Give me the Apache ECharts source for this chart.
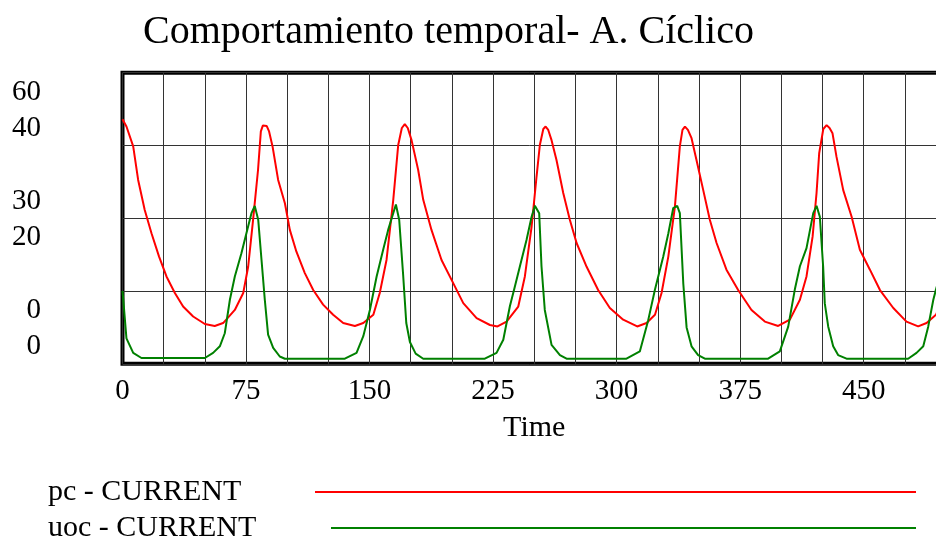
<!DOCTYPE html>
<html><head><meta charset="utf-8">
<script src="https://cdn.jsdelivr.net/npm/echarts@6/dist/echarts.min.js"></script>
<style>html,body{margin:0;padding:0;background:#fff}#c{width:936px;height:540px}</style>
</head><body><div id="c"></div>
<script>
const titleText = 'Comportamiento temporal- A. Cíclico';
const seriesNames = ['pc - CURRENT', 'uoc - CURRENT'];
const xTicks = [0, 75, 150, 225, 300, 375, 450];
const pcTicks = [0, 30, 60];
const uocTicks = [0, 20, 40];

const pcTime = [0, 2.4, 6.5, 9.5, 13.5, 17.6, 22.2, 26.7, 31.8, 36.8, 42.9, 50, 56, 61.1, 68.2, 73.3, 76.3, 79.3, 82.3, 84, 85.2, 86.4, 87.6, 89, 91.1, 94.5, 98.6, 101.6, 105.6, 110.7, 115.8, 121.8, 127.9, 134, 141.1, 146.2, 152.3, 156.2, 160.3, 164.4, 167.4, 169.6, 171.4, 173.2, 175.5, 179.5, 182.6, 187.6, 193.7, 199.8, 206.9, 215, 223.1, 227.7, 233.2, 240.3, 244.3, 248.4, 251.4, 253.4, 255.5, 256.9, 258.5, 260.5, 263.5, 267.6, 271.6, 275.7, 281.8, 288.8, 295.9, 304, 312.5, 318.2, 323.3, 327.3, 331.4, 335.4, 338.4, 340, 341.5, 343.3, 345.5, 348.5, 352.6, 356.6, 360.7, 366.7, 373.8, 381.9, 390, 398.1, 405.2, 411.3, 415.3, 419, 421.4, 423, 425.5, 427.5, 429.3, 431.1, 433.5, 437.6, 442.7, 447.7, 453.8, 459.9, 468, 476, 483.1, 488.2, 493.9, 500];
const pcValues = [50.4, 48.9, 44.8, 37.9, 31.7, 26.9, 22.1, 18.0, 14.6, 11.8, 9.75, 8.2, 7.8, 8.4, 11.1, 14.6, 20.0, 29.7, 40.0, 47.9, 49.1, 49.4, 49.0, 47.9, 44.8, 37.9, 33.1, 27.6, 23.1, 18.7, 15.2, 12.2, 10.1, 8.4, 7.8, 8.4, 10.1, 14.6, 21.4, 33.8, 45.1, 48.6, 49.4, 48.6, 46.1, 40.0, 33.8, 27.6, 21.4, 17.3, 12.5, 9.4, 8.0, 7.7, 8.7, 11.8, 18.0, 28.3, 38.6, 45.1, 48.4, 48.9, 48.2, 46.1, 42.0, 35.2, 29.7, 24.9, 20.0, 15.2, 11.5, 9.1, 7.7, 8.4, 10.1, 14.6, 22.1, 32.4, 44.8, 48.2, 48.9, 48.2, 46.5, 42.0, 35.8, 29.7, 24.9, 19.4, 15.2, 11.1, 8.7, 7.8, 9.1, 13.2, 18.0, 26.2, 35.2, 43.4, 48.4, 49.2, 48.6, 47.5, 42.7, 35.8, 30.3, 23.5, 19.4, 15.2, 11.5, 8.7, 7.7, 8.4, 10.1, 14.6];

const uocTime = [0, 0.8, 2.4, 6.5, 11.5, 50, 55, 59.1, 62.1, 65.2, 68.2, 72.2, 76.3, 78.3, 80.3, 82.4, 84.4, 86.4, 88.4, 91.5, 95.5, 98.6, 135, 142.1, 146.2, 150.2, 154.3, 158.3, 161.3, 166, 168, 170.4, 172.3, 174.5, 178, 182.6, 220, 227.1, 231.2, 235.2, 238.2, 241.3, 245.3, 248.4, 250.4, 253, 254.4, 256.4, 260.5, 265.6, 269.6, 306, 314.1, 319.2, 323.3, 328.3, 331.4, 334.4, 336.8, 338.4, 340.5, 342.5, 345.5, 349.5, 353.6, 392, 399.1, 404.2, 408.2, 411.3, 415.3, 419.4, 421.4, 423.4, 425.4, 426.4, 428.5, 431.5, 434.5, 439.6, 477, 482.1, 486.2, 489.2, 492.3, 493.9, 500];
const uocValues = [10.0, 7.9, 3.5, 1.5, 0.8, 0.8, 1.5, 2.4, 4.2, 8.8, 12.0, 15.2, 18.9, 20.7, 21.7, 19.8, 14.3, 8.8, 4.0, 2.2, 1.0, 0.7, 0.7, 1.5, 3.8, 7.4, 12.0, 15.7, 18.4, 21.9, 19.8, 12.2, 5.6, 3.0, 1.4, 0.7, 0.7, 1.5, 3.3, 7.9, 10.6, 13.4, 17.0, 20.2, 21.7, 20.7, 13.4, 7.4, 2.6, 1.2, 0.7, 0.7, 1.7, 6.0, 10.2, 14.7, 17.9, 21.4, 21.7, 20.7, 11.0, 5.0, 2.4, 1.2, 0.7, 0.7, 1.7, 5.1, 10.2, 13.4, 15.9, 20.7, 21.7, 20.2, 13.4, 8.3, 5.1, 2.4, 1.2, 0.7, 0.7, 1.5, 2.4, 5.1, 8.8, 10.2, 15.0];

const FONT = 'Liberation Serif';
const chart = echarts.init(document.getElementById('c'), null, {renderer: 'canvas'});
const hidden = {axisLine: {show: false}, axisTick: {show: false}};
const gridLine = {show: true, lineStyle: {color: '#333', width: 1}};

chart.setOption({
  animation: false,
  backgroundColor: '#fff',
  title: {
    text: titleText, left: 143, top: 12, padding: 0,
    textStyle: {fontSize: 40, fontWeight: 'normal', fontFamily: FONT, color: '#000'}
  },
  grid: {
    left: 122.5, top: 72.7, right: -10, height: 291.1,
    show: true, borderColor: '#000', borderWidth: 4, backgroundColor: '#fff',
    containLabel: false, outerBoundsMode: 'none'
  },
  xAxis: [
    Object.assign({
      type: 'value', min: 0, max: 500, interval: 75, position: 'bottom',
      splitLine: {show: false},
      axisLabel: {customValues: xTicks, fontSize: 29, fontFamily: FONT, color: '#000', margin: 13},
      name: 'Time', nameLocation: 'middle', nameGap: 49,
      nameTextStyle: {fontSize: 30, fontFamily: FONT, color: '#000'}
    }, hidden),
    Object.assign({
      type: 'value', min: 0, max: 500, interval: 25, position: 'bottom',
      axisLabel: {show: false}, splitLine: gridLine
    }, hidden)
  ],
  yAxis: [
    Object.assign({type: 'value', min: 0, max: 60, interval: 15, position: 'left',
      axisLabel: {show: false}, splitLine: gridLine}, hidden),
    Object.assign({type: 'value', min: 0, max: 40, interval: 10, position: 'left',
      axisLabel: {show: false}, splitLine: {show: false}}, hidden),
    Object.assign({type: 'value', min: -14.81, max: 65.31, position: 'left',
      splitLine: {show: false},
      axisLabel: {customValues: pcTicks, fontSize: 29, fontFamily: FONT, color: '#000', margin: 81.5, align: 'right'}}, hidden),
    Object.assign({type: 'value', min: -3.12, max: 50.29, position: 'left',
      splitLine: {show: false},
      axisLabel: {customValues: uocTicks, fontSize: 29, fontFamily: FONT, color: '#000', margin: 81.5, align: 'right'}}, hidden)
  ],
  legend: [
    {
      data: [seriesNames[0]], left: 48, top: 477, orient: 'horizontal', align: 'right',
      icon: 'rect', itemWidth: 601, itemHeight: 2, padding: 0, selectedMode: false,
      formatter: n => '{t|' + n + '}',
      textStyle: {fontSize: 30, fontFamily: FONT, color: '#000',
        rich: {t: {width: 262, align: 'left', fontSize: 30, fontFamily: FONT, color: '#000'}}}
    },
    {
      data: [seriesNames[1]], left: 48, top: 513, orient: 'horizontal', align: 'right',
      icon: 'rect', itemWidth: 585, itemHeight: 2, padding: 0, selectedMode: false,
      formatter: n => '{t|' + n + '}',
      textStyle: {fontSize: 30, fontFamily: FONT, color: '#000',
        rich: {t: {width: 278, align: 'left', fontSize: 30, fontFamily: FONT, color: '#000'}}}
    }
  ],
  series: [
    {
      type: 'line', name: seriesNames[0], xAxisIndex: 0, yAxisIndex: 0,
      data: pcTime.map((t, i) => [t, pcValues[i]]),
      symbol: 'none', showSymbol: false,
      lineStyle: {color: '#ff0000', width: 2}, itemStyle: {color: '#ff0000'}
    },
    {
      type: 'line', name: seriesNames[1], xAxisIndex: 0, yAxisIndex: 1,
      data: uocTime.map((t, i) => [t, uocValues[i]]),
      symbol: 'none', showSymbol: false,
      lineStyle: {color: '#008000', width: 2}, itemStyle: {color: '#008000'}
    }
  ]
});
</script>
</body></html>
